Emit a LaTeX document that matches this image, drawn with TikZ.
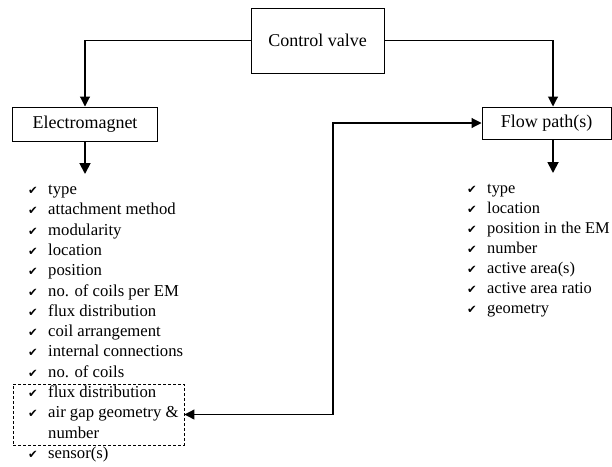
\documentclass[tikz,border=0pt]{standalone}
\usepackage{fontspec}
\setmainfont{Liberation Serif}
\newfontfamily\checkfont{DejaVu Sans}
\usetikzlibrary{arrows.meta}
\newcommand{\chk}{\makebox[20pt][l]{\checkfont\fontsize{11.5}{11.5}\selectfont ✔}}
\begin{document}
\begin{tikzpicture}[x=1pt,y=-1pt,
  box/.style={draw,line width=1pt,rectangle,inner sep=0pt,font=\fontsize{18}{20}\selectfont},
  arr/.style={line width=1.1pt,-{Triangle[length=10pt,width=10pt]}},
  darr/.style={line width=1.1pt,{Triangle[length=10pt,width=10pt]}-{Triangle[length=10pt,width=10pt]}},
  thick arr/.style={line width=1.8pt,-{Triangle[length=11pt,width=11pt]}},
  item/.style={anchor=base west,inner sep=0pt,font=\fontsize{16.7}{19}\selectfont},
  ritem/.style={anchor=base west,inner sep=0pt,font=\fontsize{16.4}{19}\selectfont},
  dbox/.style={draw,dash pattern=on 3pt off 2pt,line width=0.9pt,rectangle,inner sep=0pt}]
\useasboundingbox (0,0) rectangle (612,466);
\node[box,minimum width=133pt,minimum height=65pt] (cv) at (317.5,40.5) {Control valve};
\node[box,minimum width=145pt,minimum height=34pt] (em) at (85,124) {Electromagnet};
\node[box,minimum width=129pt,minimum height=32pt] (fp) at (546.5,123) {Flow path(s)};
\node[dbox,minimum width=171pt,minimum height=61pt] (db) at (98.5,414.5) {};
\coordinate (emout) at (85,174);
\coordinate (fpout) at (553,173);
\coordinate (bend) at (333,123);
\draw[arr] (cv.west) -| (em.north);
\draw[arr] (cv.east) -| ([xshift=6.5pt]fp.north);
\draw[thick arr] (em.south) -- (emout);
\draw[thick arr] ([xshift=6.5pt]fp.south) -- (fpout);
\draw[darr] (db.east) -| (bend) -- (fp.west);
% left list
\foreach \t [count=\i from 0] in {type,attachment method,modularity,location,position,no. of coils per EM,flux distribution,coil arrangement,internal connections,no. of coils,flux distribution,air gap geometry \&}
  \node[item] (l\i) at (28,194.5+20.3*\i) {\chk\t};
\node[item] (l12) at (48,194.5+20.3*12) {number};
\node[item] (l13) at (28,194.5+20.3*13) {\chk sensor(s)};
% right list
\foreach \t [count=\i from 0] in {type,location,position in the EM,number,active area(s),active area ratio,geometry}
  \node[ritem] (r\i) at (467,193+20*\i) {\chk\t};
\end{tikzpicture}
\end{document}
